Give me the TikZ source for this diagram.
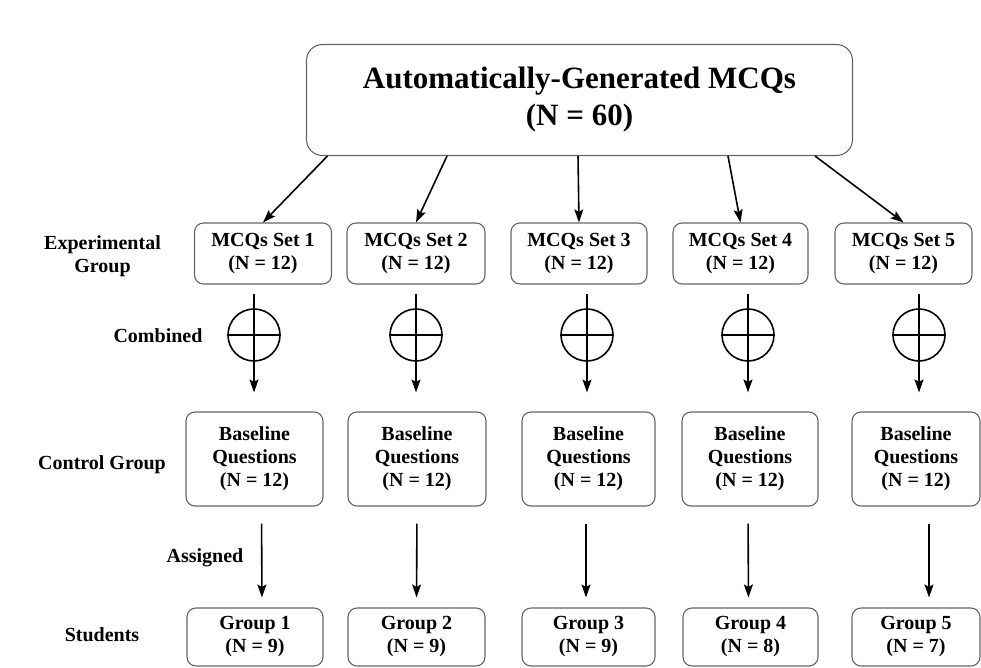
\documentclass[tikz,border=0pt]{standalone}
\usepackage{fontspec}
\setmainfont{Liberation Serif}
\usetikzlibrary{arrows.meta}
\begin{document}
\begin{tikzpicture}[x=1pt,y=-1pt,
  box/.style={draw=black!60, line width=1.1pt, rounded corners=9pt, align=center,
    inner sep=0pt, font=\fontsize{20}{23}\selectfont\bfseries},
  lbl/.style={align=center, inner sep=0pt, font=\fontsize{20}{23}\selectfont\bfseries},
  arr/.style={line width=1.6pt, -{Stealth[length=13pt,width=9pt,inset=2.5pt]}},
  oplus/.style={draw, circle, line width=1.6pt, minimum size=52pt, inner sep=0pt}]
\useasboundingbox (0,0) rectangle (981,668);
\fill[white] (0,0) rectangle (981,668);

% source box
\node[box, rounded corners=16pt, minimum width=546pt, minimum height=111pt,
  font=\fontsize{31}{37}\selectfont\bfseries] (top) at (579.5,100)
  {Automatically-Generated MCQs\\(N = 60)};

% experimental sets
\foreach \i/\x/\w in {1/263/137, 2/416/138, 3/579/136, 4/740.5/135, 5/903.5/137}
  \node[box, minimum width=\w pt, minimum height=61pt] (set\i) at (\x,253.5)
    {MCQs Set \i\\(N = 12)};

% baseline questions
\foreach \i/\x/\w in {1/254.5/137, 2/417/138, 3/588.5/133, 4/750/136, 5/916/128}
  \node[box, minimum width=\w pt, minimum height=94pt] (base\i) at (\x,459)
    {Baseline\\Questions\\(N = 12)};

% student groups
\foreach \i/\x/\w/\n in {1/255/136/9, 2/416.5/137/9, 3/588.5/133/9, 4/750.5/135/8, 5/916/128/7}
  \node[box, minimum width=\w pt, minimum height=58pt] (grp\i) at (\x,637)
    {Group \i\\(N = \n)};

% combine symbols
\foreach \i/\x in {1/254, 2/416, 3/587, 4/748, 5/919}
  \node[oplus] (cmb\i) at (\x,335) {};
\foreach \i in {1,...,5}
  \draw[line width=1.6pt] (cmb\i.west) -- (cmb\i.east);

% row labels
\node[lbl] (lexp) at (102.5,256) {Experimental\\Group};
\node[lbl] (lcmb) at (158,336) {Combined};
\node[lbl] (lctl) at (102,465) {Control Group};
\node[lbl] (lasg) at (205,558) {Assigned};
\node[lbl] (lstu) at (102,635) {Students};

% split into sets
\coordinate (o1) at (327.5,156);
\coordinate (o2) at (447,156);
\coordinate (o3) at (578,156);
\coordinate (o4) at (728,156);
\coordinate (o5) at (815,156);
\draw[arr] (o1) -- (set1.north);
\draw[arr] (o2) -- (set2.north);
\draw[arr] (o3) -- (set3.north);
\draw[arr] (o4) -- (set4.north);
\draw[arr] (o5) -- (set5.north);

% sets combined with baseline questions
\foreach \i in {1,...,5}
  \draw[arr, shorten <=9pt, shorten >=19pt] (set\i.south -| cmb\i) -- (base\i.north -| cmb\i);

% assignment to students
\foreach \i/\dx in {1/7, 2/0, 3/-2.5, 4/-2, 5/13}
  \draw[arr, shorten <=17pt, shorten >=10pt]
    ([xshift=\dx pt]base\i.south) -- ([xshift=\dx pt]grp\i.north);
\end{tikzpicture}
\end{document}
